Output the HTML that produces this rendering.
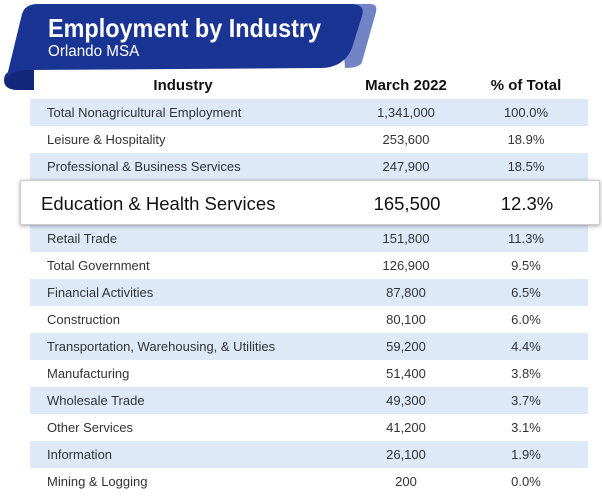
<!DOCTYPE html>
<html><head><meta charset="utf-8"><style>
body{margin:0;width:602px;height:504px;background:#fff;font-family:"Liberation Sans",sans-serif;position:relative;overflow:hidden}
.t{position:absolute;left:0;top:0}
.row{position:absolute;left:30px;width:558px;height:27px;font-size:13px;color:#333;line-height:27px}
.row.b{background:#dde9f7}
.row span{position:absolute}
.c1{left:17px}.c2{left:326px;width:100px;text-align:center}.c3{left:446px;width:100px;text-align:center}
.hdr{position:absolute;top:77px;font-weight:bold;font-size:15px;color:#111}
</style></head><body>
<svg class="t" width="602" height="100">
<path d="M340,4 L370,4 Q378,4 376,12 L362,62 Q360,68 345,68 Z" fill="#7284c6"/>
<path d="M4,80 Q4,70 18,70 L34,70 L34,90 L18,90 Q4,90 4,80 Z" fill="#13287a"/>
<path d="M38,4 L350,4 Q366,4 362,16 L352,48 Q344,68 320,68 L30,70 Q10,70 6,80 L22,14 Q25,4 38,4 Z" fill="#1a3494"/>
</svg>
<div style="position:absolute;left:48px;top:13px;color:#fff;font-weight:bold;font-size:26px;transform:scaleX(0.9);transform-origin:0 0">Employment by Industry</div>
<div style="position:absolute;left:48px;top:43px;color:#fff;font-size:16px;transform:scaleX(0.95);transform-origin:0 0">Orlando MSA</div>
<div class="hdr" style="left:133px;width:100px;text-align:center">Industry</div>
<div class="hdr" style="left:346px;width:120px;text-align:center">March 2022</div>
<div class="hdr" style="left:476px;width:100px;text-align:center">% of Total</div>

<div class="row b" style="top:99px"><span class="c1">Total Nonagricultural Employment</span><span class="c2">1,341,000</span><span class="c3">100.0%</span></div>
<div class="row" style="top:126px"><span class="c1">Leisure &amp; Hospitality</span><span class="c2">253,600</span><span class="c3">18.9%</span></div>
<div class="row b" style="top:153px"><span class="c1">Professional &amp; Business Services</span><span class="c2">247,900</span><span class="c3">18.5%</span></div>
<div class="row b" style="top:180px;height:45px"></div>
<div class="row b" style="top:225px"><span class="c1">Retail Trade</span><span class="c2">151,800</span><span class="c3">11.3%</span></div>
<div class="row" style="top:252px"><span class="c1">Total Government</span><span class="c2">126,900</span><span class="c3">9.5%</span></div>
<div class="row b" style="top:279px"><span class="c1">Financial Activities</span><span class="c2">87,800</span><span class="c3">6.5%</span></div>
<div class="row" style="top:306px"><span class="c1">Construction</span><span class="c2">80,100</span><span class="c3">6.0%</span></div>
<div class="row b" style="top:333px"><span class="c1">Transportation, Warehousing, &amp; Utilities</span><span class="c2">59,200</span><span class="c3">4.4%</span></div>
<div class="row" style="top:360px"><span class="c1">Manufacturing</span><span class="c2">51,400</span><span class="c3">3.8%</span></div>
<div class="row b" style="top:387px"><span class="c1">Wholesale Trade</span><span class="c2">49,300</span><span class="c3">3.7%</span></div>
<div class="row" style="top:414px"><span class="c1">Other Services</span><span class="c2">41,200</span><span class="c3">3.1%</span></div>
<div class="row b" style="top:441px"><span class="c1">Information</span><span class="c2">26,100</span><span class="c3">1.9%</span></div>
<div class="row" style="top:468px"><span class="c1">Mining &amp; Logging</span><span class="c2">200</span><span class="c3">0.0%</span></div>

<div style="position:absolute;left:20px;top:180px;width:578px;height:43px;background:#fff;border:1px solid #ccc;box-shadow:0 1px 4px rgba(0,0,0,0.35);font-size:18.5px;color:#111;line-height:45px">
<span style="position:absolute;left:20px">Education &amp; Health Services</span>
<span style="position:absolute;left:336px;width:100px;text-align:center">165,500</span>
<span style="position:absolute;left:456px;width:100px;text-align:center">12.3%</span>
</div>
</body></html>
